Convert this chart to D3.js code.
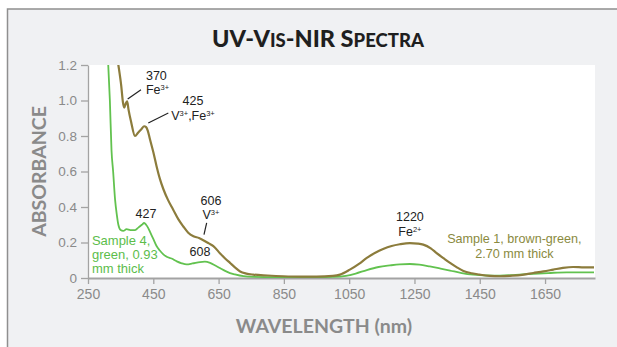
<!DOCTYPE html>
<html>
<head>
<meta charset="utf-8">
<script src="https://cdn.jsdelivr.net/npm/d3@7"></script>
<style>
  html, body { margin: 0; padding: 0; background: #fff; }
  svg { display: block; }
</style>
</head>
<body>
<svg id="chart"></svg>
<script>
// --- data ---
const xTicks = [250, 450, 650, 850, 1050, 1250, 1450, 1650];
const yTicks = [0, 0.2, 0.4, 0.6, 0.8, 1.0, 1.2];

// Sample 1, brown-green (wavelength nm, absorbance)
const sample1Wl  = [330, 343, 352, 357, 361, 366, 370, 374, 382, 394, 404, 414, 422, 428, 433, 440, 450, 460, 470, 481, 495, 511, 527, 542, 557, 573, 590, 606, 620, 634, 654, 670, 685, 700, 716, 735, 756, 800, 848, 900, 950, 1000, 1022, 1052, 1080, 1104, 1130, 1154, 1180, 1205, 1236, 1260, 1277, 1300, 1318, 1340, 1359, 1380, 1400, 1425, 1450, 1480, 1512, 1550, 1580, 1614, 1645, 1675, 1705, 1736, 1770, 1800];
const sample1Abs = [1.35, 1.2, 1.08, 0.99, 0.96, 0.985, 0.995, 0.95, 0.88, 0.80, 0.82, 0.84, 0.855, 0.85, 0.83, 0.78, 0.71, 0.63, 0.56, 0.50, 0.44, 0.385, 0.33, 0.29, 0.255, 0.235, 0.225, 0.21, 0.195, 0.18, 0.14, 0.11, 0.085, 0.06, 0.037, 0.025, 0.019, 0.014, 0.01, 0.008, 0.008, 0.012, 0.019, 0.047, 0.08, 0.113, 0.142, 0.163, 0.18, 0.19, 0.197, 0.194, 0.188, 0.167, 0.14, 0.11, 0.085, 0.06, 0.04, 0.027, 0.019, 0.012, 0.01, 0.013, 0.018, 0.028, 0.037, 0.047, 0.057, 0.062, 0.06, 0.06];

// Sample 4, green
const sample4Wl  = [305, 312, 317, 322, 327, 333, 338, 343, 350, 358, 368, 380, 394, 405, 415, 422, 428, 435, 440, 450, 460, 470, 480, 491, 506, 522, 537, 552, 570, 593, 608, 624, 640, 654, 670, 685, 700, 726, 760, 800, 900, 1000, 1040, 1070, 1104, 1140, 1175, 1205, 1236, 1265, 1297, 1330, 1359, 1395, 1430, 1470, 1512, 1560, 1614, 1660, 1716, 1760, 1800];
const sample4Abs = [1.4, 1.2, 1.0, 0.72, 0.6, 0.44, 0.36, 0.30, 0.27, 0.265, 0.275, 0.27, 0.27, 0.285, 0.30, 0.31, 0.30, 0.28, 0.26, 0.22, 0.18, 0.155, 0.135, 0.12, 0.11, 0.094, 0.083, 0.077, 0.082, 0.09, 0.092, 0.085, 0.07, 0.056, 0.04, 0.028, 0.02, 0.01, 0.006, 0.005, 0.004, 0.006, 0.012, 0.025, 0.045, 0.062, 0.071, 0.077, 0.079, 0.075, 0.065, 0.053, 0.042, 0.028, 0.019, 0.014, 0.013, 0.018, 0.024, 0.028, 0.032, 0.032, 0.032];

// peak labels: anchor in data units, lines of text (alternating normal / superscript pieces)
const peakLabels = [
  { wl: 427.6, abs: 1.117, anchor: 'start',  lines: [['370', ''], ['Fe', '3+']] },
  { wl: 571.6, abs: 0.974, anchor: 'middle', lines: [['425', ''], ['V', '3+', ',Fe', '3+']] },
  { wl: 427.6, abs: 0.337, anchor: 'middle', lines: [['427', '']] },
  { wl: 626.7, abs: 0.413, anchor: 'middle', lines: [['606', ''], ['V', '3+']] },
  { wl: 593,   abs: 0.126, anchor: 'middle', lines: [['608', '']] },
  { wl: 1236,  abs: 0.32,  anchor: 'middle', lines: [['1220', ''], ['Fe', '2+']] }
];
// leader lines [wl1, abs1, wl2, abs2]
const leaders = [
  [371.6, 1.008, 412.3, 1.061],
  [434.7, 0.873, 496, 0.930],
  [613.5, 0.31, 605.3, 0.244]
];

const W = 617, H = 347;
const M = { left: 88, right: 22, top: 65, bottom: 69 };
const BROWN = '#8c7c3c', GREEN = '#62c24f';
const AXIS_GRAY = '#a3a3a3', LABEL_GRAY = '#8a8a8a';
const FONT = '"Liberation Sans", Arial, sans-serif';

const svg = d3.select('#chart').attr('width', W).attr('height', H);

// panel
svg.append('rect').attr('width', W).attr('height', H).attr('fill', '#fff');
svg.append('rect')
  .attr('x', 7.5).attr('y', 9).attr('width', W).attr('height', H)
  .attr('fill', '#f0f1f3')
  .attr('stroke', '#8f8f8f').attr('stroke-width', 1.5);

const x = d3.scaleLinear().domain([250, 1803]).range([M.left, W - M.right]);
const y = d3.scaleLinear().domain([0, 1.2]).range([H - M.bottom, M.top]);

svg.append('rect')
  .attr('x', x(250)).attr('y', y(1.2))
  .attr('width', x(1803) - x(250)).attr('height', y(0) - y(1.2))
  .attr('fill', '#fff');

// title, small caps done by hand
const title = svg.append('text')
  .attr('x', 318).attr('y', 47)
  .attr('text-anchor', 'middle')
  .attr('font-family', 'Lato, "Open Sans", sans-serif')
  .attr('font-weight', 900)
  .attr('fill', '#1f1f1f');
[['UV-V', 23.5], ['IS', 18.5], ['-NIR S', 23.5], ['PECTRA', 18.5]].forEach(([t, s]) => {
  title.append('tspan').attr('font-size', s).text(t);
});

// axes
const xAxis = svg.append('g')
  .attr('transform', `translate(0,${y(0)})`)
  .call(d3.axisBottom(x).tickValues(xTicks).tickSize(6).tickPadding(5).tickSizeOuter(0)
    .tickFormat(d3.format('d')));
xAxis.select('.domain').attr('stroke', AXIS_GRAY).attr('stroke-width', 2);
xAxis.selectAll('.tick line').attr('stroke', AXIS_GRAY).attr('stroke-width', 1.3);
xAxis.selectAll('.tick text')
  .attr('fill', LABEL_GRAY).attr('font-size', 14)
  .attr('font-family', FONT);

const yAxis = svg.append('g')
  .attr('transform', `translate(${x(250)},0)`)
  .call(d3.axisLeft(y).tickValues(yTicks).tickSize(7).tickPadding(4).tickSizeOuter(0)
    .tickFormat(d => d === 0 ? '0' : d3.format('.1f')(d)));
yAxis.select('.domain').attr('stroke', AXIS_GRAY).attr('stroke-width', 1.3);
yAxis.selectAll('.tick line').attr('stroke', AXIS_GRAY).attr('stroke-width', 1.3);
yAxis.selectAll('.tick text')
  .attr('fill', LABEL_GRAY).attr('font-size', 13.5)
  .attr('font-family', FONT);

// axis titles
svg.append('text')
  .attr('transform', `translate(46,${(y(0) + y(1.2)) / 2}) rotate(-90)`)
  .attr('text-anchor', 'middle')
  .attr('font-family', 'Lato, "Open Sans", sans-serif')
  .attr('font-weight', 'bold').attr('font-size', 19.5)
  .attr('fill', LABEL_GRAY)
  .text('ABSORBANCE');

svg.append('text')
  .attr('x', 324).attr('y', 333)
  .attr('text-anchor', 'middle')
  .attr('font-family', 'Lato, "Open Sans", sans-serif')
  .attr('font-weight', 'bold').attr('font-size', 19.5)
  .attr('fill', LABEL_GRAY)
  .text('WAVELENGTH (nm)');

// curves
svg.append('defs').append('clipPath').attr('id', 'plotClip')
  .append('rect')
  .attr('x', x(250)).attr('y', y(1.2))
  .attr('width', x(1803) - x(250)).attr('height', y(0) - y(1.2));

const line = d3.line()
  .x(d => x(d[0])).y(d => y(d[1]))
  .curve(d3.curveMonotoneX);

const plot = svg.append('g').attr('clip-path', 'url(#plotClip)');
plot.append('path')
  .datum(d3.zip(sample4Wl, sample4Abs))
  .attr('d', line)
  .attr('fill', 'none').attr('stroke', GREEN).attr('stroke-width', 1.8);
plot.append('path')
  .datum(d3.zip(sample1Wl, sample1Abs))
  .attr('d', line)
  .attr('fill', 'none').attr('stroke', BROWN).attr('stroke-width', 2.2);

// peak labels
peakLabels.forEach(p => {
  const t = svg.append('text')
    .attr('x', x(p.wl)).attr('y', y(p.abs))
    .attr('text-anchor', p.anchor)
    .attr('font-family', FONT).attr('font-size', 12.5)
    .attr('fill', '#222');
  p.lines.forEach((ln, i) => {
    const row = t.append('tspan').attr('x', x(p.wl)).attr('dy', i === 0 ? 0 : 14.5);
    ln.forEach((part, j) => {
      if (!part) return;
      if (j % 2 === 1) {
        row.append('tspan').attr('font-size', 7.5).attr('dy', -4).text(part);
      } else {
        const s = row.append('tspan').text(part);
        if (j > 0) s.attr('dy', 4);
      }
    });
  });
});

leaders.forEach(l => {
  svg.append('line')
    .attr('x1', x(l[0])).attr('y1', y(l[1]))
    .attr('x2', x(l[2])).attr('y2', y(l[3]))
    .attr('stroke', '#222').attr('stroke-width', 1.2);
});

// sample labels
const s1 = svg.append('text')
  .attr('text-anchor', 'middle')
  .attr('font-family', FONT).attr('font-size', 12.6)
  .attr('fill', '#8a8a40');
['Sample 1, brown-green,', '2.70 mm thick'].forEach((t, i) => {
  s1.append('tspan').attr('x', x(1556)).attr('y', y(0.188) - 1.5 + i * 14.6).text(t);
});

const s4 = svg.append('text')
  .attr('font-family', FONT).attr('font-size', 13)
  .attr('fill', '#5cbd4b');
['Sample 4,', 'green, 0.93', 'mm thick'].forEach((t, i) => {
  s4.append('tspan').attr('x', x(262)).attr('y', y(0.188) + i * 14.3).text(t);
});
</script>
</body>
</html>
